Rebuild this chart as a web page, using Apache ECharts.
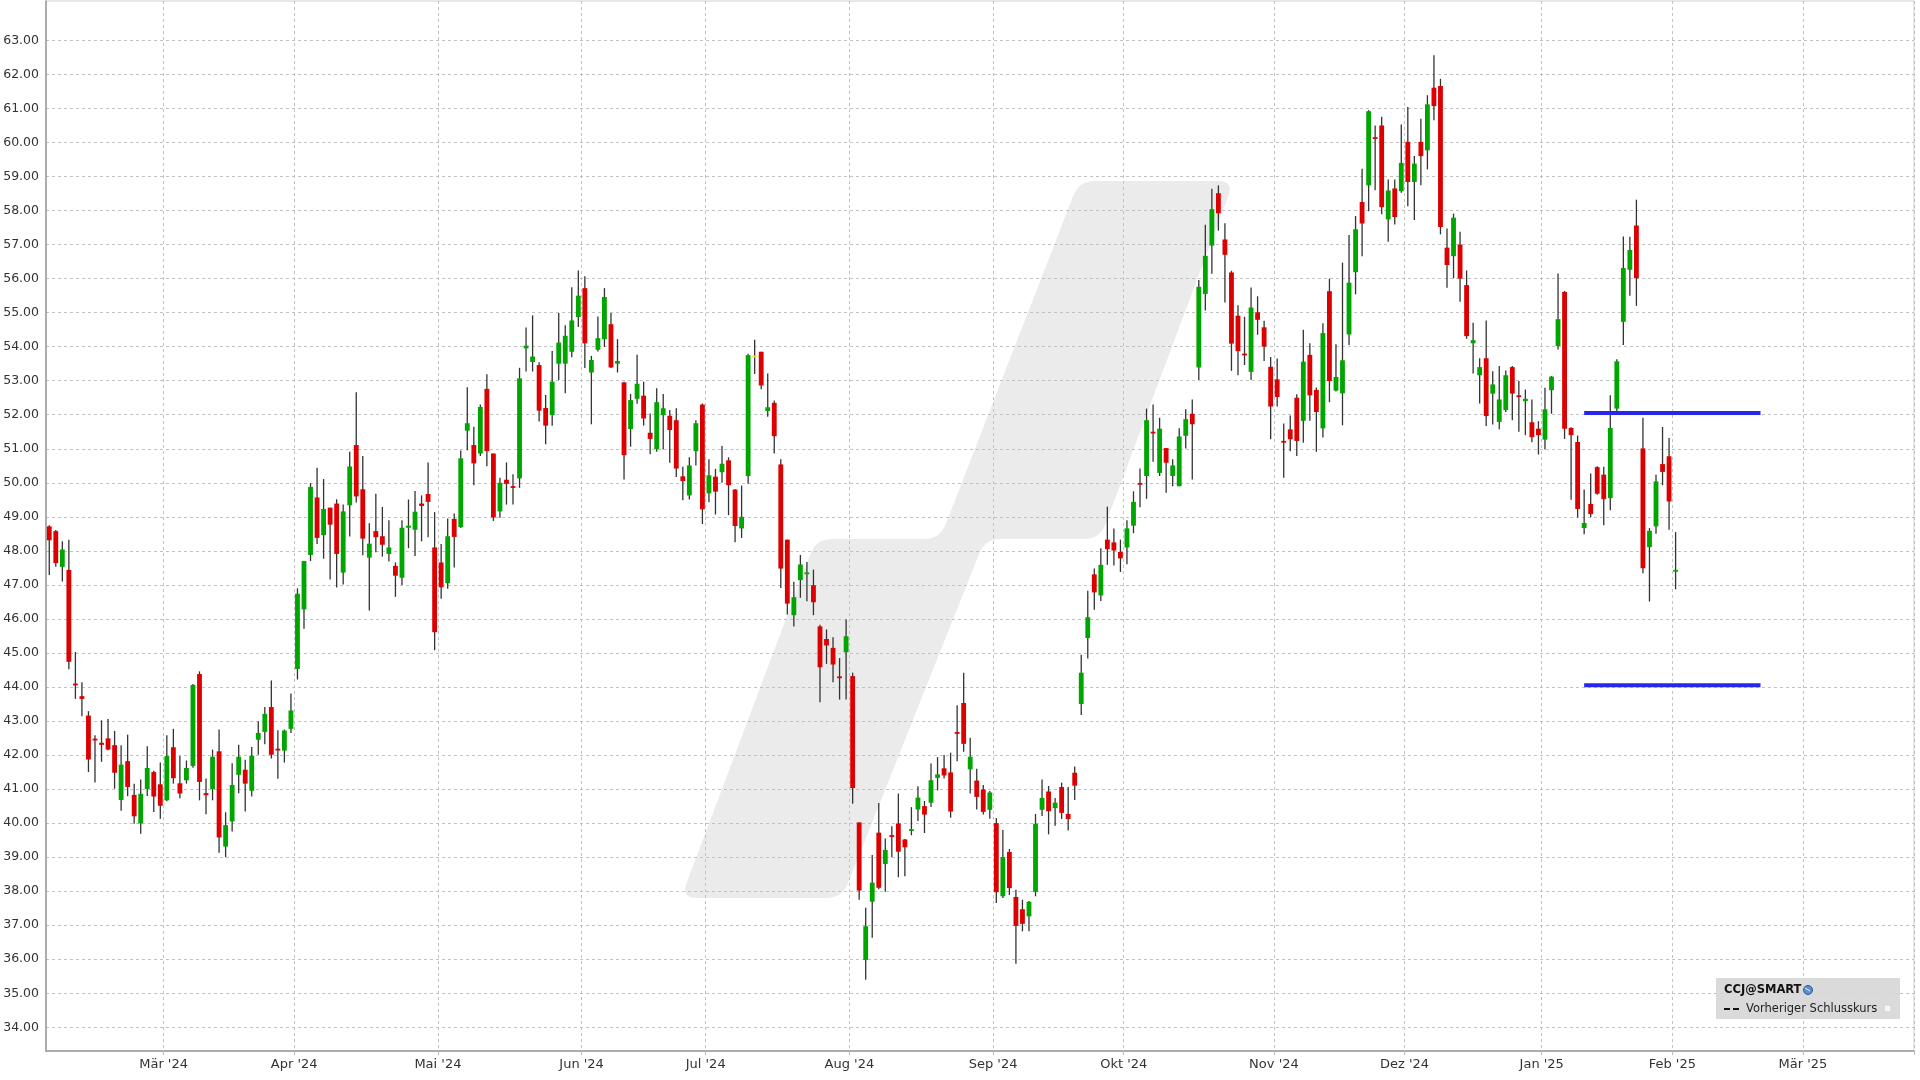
<!DOCTYPE html>
<html><head><meta charset="utf-8">
<script src="https://cdn.jsdelivr.net/npm/echarts@6.0.0/dist/echarts.min.js"></script>
<style>html,body{margin:0;padding:0;background:#fff}#c{width:1920px;height:1080px}</style>
</head><body><div id="c"></div><script>
// ---------- data ----------
const firstDay = '2024-02-05';
const lastDay = '2025-03-25';
const holidays = ['2024-02-19','2024-03-29','2024-05-27','2024-06-19','2024-07-04','2024-09-02','2024-11-28','2024-12-25','2025-01-01','2025-01-09','2025-01-20'];
const monthNames = ['Jan','Feb','Mär','Apr','Mai','Jun','Jul','Aug','Sep','Okt','Nov','Dez'];

const open = [48.72,48.58,47.53,47.44,44.10,43.73,43.16,42.48,42.36,42.49,42.29,40.68,41.82,40.83,39.99,41.00,41.50,41.14,40.67,42.23,
41.17,41.26,41.68,44.38,40.88,41.00,42.11,39.31,40.05,41.42,41.57,40.95,42.45,42.68,43.41,42.18,42.13,42.77,44.53,46.28,
47.88,49.57,48.46,49.27,49.39,47.36,49.34,51.11,49.81,47.80,48.58,48.43,47.91,47.56,47.21,48.68,48.62,49.39,49.67,48.10,
47.66,47.05,48.94,48.70,51.53,51.11,50.86,52.76,50.86,49.16,50.09,49.90,50.13,53.95,53.55,53.46,52.20,51.99,53.50,53.50,
53.85,54.87,55.72,53.24,53.91,54.22,54.66,53.50,52.95,51.58,52.47,52.56,51.47,50.99,51.99,51.97,51.84,50.19,49.63,50.93,
52.30,49.69,50.18,50.31,50.66,49.80,48.66,50.20,53.71,53.85,52.11,52.35,50.54,48.33,46.11,47.14,47.32,46.99,45.78,45.41,
45.15,44.31,45.02,44.32,40.02,35.98,37.69,39.72,38.80,39.64,39.99,39.52,39.77,40.40,40.50,40.60,41.33,41.61,41.49,42.67,
43.53,41.58,41.25,40.99,40.39,40.00,37.85,39.15,37.83,37.47,37.26,37.98,40.39,40.93,40.44,41.06,40.27,41.48,43.50,45.44,
47.31,46.69,48.33,48.25,47.97,48.10,48.74,49.99,50.20,51.49,50.29,51.02,50.20,49.90,51.38,52.03,53.39,55.55,56.97,58.51,
57.15,56.18,54.91,53.79,53.26,55.01,54.57,53.41,53.04,51.23,51.57,52.50,51.82,53.76,52.73,51.60,55.63,52.71,52.63,54.36,
56.19,58.25,58.74,60.15,60.50,57.74,58.65,58.57,60.02,58.84,60.02,59.77,61.61,61.66,56.91,56.66,57.00,55.81,54.10,53.16,
53.66,52.62,51.79,52.14,53.40,52.57,52.40,51.78,51.59,51.27,52.72,54.02,55.61,51.61,51.20,48.67,49.38,50.46,50.24,49.55,
52.18,54.73,56.26,57.56,51.01,48.11,48.72,50.55,50.78,47.39];
const close = [48.31,47.64,48.04,44.74,44.05,43.65,41.87,42.43,42.30,42.16,41.48,41.72,41.06,40.20,40.86,41.62,40.78,40.51,41.97,41.32,
40.87,41.62,44.06,41.21,40.82,41.95,39.58,39.94,41.12,41.95,41.16,41.98,42.65,43.21,42.01,42.14,42.72,43.31,46.74,47.70,
49.88,48.38,49.23,48.77,47.91,49.16,50.48,49.60,48.36,48.21,48.40,48.18,48.10,47.27,48.68,48.74,49.15,49.32,49.44,45.61,
46.93,48.43,48.41,50.72,51.75,50.57,52.23,50.93,48.98,50.00,49.97,49.85,53.07,54.03,53.71,52.12,51.68,52.97,54.12,54.32,
54.77,55.50,54.10,53.61,54.25,55.46,53.39,53.58,50.81,52.43,52.91,51.89,51.29,52.37,52.19,51.55,50.42,50.05,50.51,51.75,
49.22,50.22,49.74,50.56,49.93,48.73,49.00,53.75,53.71,52.86,52.22,51.37,47.48,46.45,46.64,47.60,47.36,46.49,44.58,45.22,
44.66,44.26,45.49,41.03,38.02,36.97,38.25,38.10,39.21,39.60,39.16,39.29,39.82,40.75,40.25,41.26,41.43,41.40,40.34,42.63,
42.33,41.95,40.77,40.33,40.90,37.97,39.00,38.09,36.98,37.04,37.69,39.98,40.74,40.35,40.60,40.30,40.12,41.10,44.42,46.05,
46.78,47.59,48.05,48.01,47.78,48.66,49.44,49.95,51.84,51.46,51.59,50.59,50.51,51.36,51.87,51.72,55.76,56.67,58.04,57.92,
56.70,54.09,53.87,53.75,55.15,54.79,54.00,52.24,52.52,51.18,51.28,51.23,53.56,52.57,52.08,54.40,52.99,53.11,53.60,55.88,
57.45,57.62,60.92,60.11,58.10,58.59,57.81,59.40,58.84,59.38,59.60,61.12,61.07,57.52,56.40,57.79,56.00,54.31,54.19,53.40,
51.96,52.89,52.45,53.16,52.62,52.52,52.47,51.34,51.40,52.16,53.12,54.81,51.59,51.40,49.23,48.82,49.08,49.68,49.52,51.61,
53.57,56.31,56.84,56.01,47.49,48.59,50.04,50.32,49.45,47.44];
const low = [47.29,47.53,47.10,44.52,43.65,43.14,41.50,41.19,41.80,42.14,41.01,40.36,40.79,39.98,39.69,40.80,40.33,40.13,40.64,41.16,
40.73,41.16,41.63,40.67,40.26,40.67,39.13,39.00,39.75,40.88,40.34,40.78,42.01,42.32,41.90,41.30,41.78,42.65,44.22,45.71,
47.70,48.20,47.77,47.16,46.92,47.01,48.42,49.42,47.87,46.25,47.96,47.83,47.69,46.65,47.00,48.08,47.85,48.28,48.40,45.08,
46.59,46.89,47.51,48.67,50.96,49.93,50.79,50.49,48.88,48.97,49.36,49.36,49.85,53.27,53.27,51.80,51.13,51.68,53.02,52.63,
53.69,54.58,53.37,51.72,53.86,53.99,53.37,53.24,50.10,51.06,52.32,51.68,50.84,50.91,50.98,50.59,50.17,49.49,49.51,50.51,
48.79,49.43,49.07,50.00,49.05,48.25,48.38,49.97,53.20,52.75,51.94,50.86,46.91,46.13,45.78,46.62,46.52,46.11,43.55,44.68,
44.14,43.63,43.63,40.57,37.75,35.40,36.63,38.06,37.98,39.00,38.41,38.44,39.64,40.06,39.71,40.47,40.96,41.31,40.16,41.82,
42.10,40.87,40.40,40.25,40.13,37.65,37.80,37.89,35.87,36.82,36.82,37.85,40.21,39.67,39.92,40.12,39.78,40.68,43.18,44.84,
46.27,46.53,47.59,47.57,47.38,47.61,48.52,49.28,49.53,50.62,50.20,49.71,49.90,49.90,51.01,50.10,53.02,55.06,56.14,57.41,
55.30,53.29,53.16,53.46,53.02,54.35,53.58,51.28,52.24,50.15,50.93,50.79,51.18,51.82,50.91,51.33,52.37,52.68,51.69,54.05,
55.54,56.66,57.98,58.60,57.89,57.08,57.59,58.52,58.13,57.72,58.74,59.21,60.65,57.30,55.73,56.01,55.32,54.23,53.21,52.33,
51.67,51.71,51.57,52.08,51.84,51.50,51.40,51.19,50.83,50.98,52.03,53.92,51.29,49.50,48.98,48.49,48.99,49.65,48.75,49.19,
52.11,54.05,55.50,55.20,47.34,46.51,48.50,49.93,48.62,46.87];
const high = [48.75,48.61,48.28,48.33,45.03,44.14,43.29,42.58,43.02,43.06,42.71,42.29,42.60,41.16,41.28,42.26,41.54,41.78,42.58,42.77,
41.97,41.84,44.09,44.46,41.31,42.16,42.75,40.32,41.76,42.30,41.86,42.24,42.99,43.41,44.19,42.73,42.75,43.81,46.90,47.70,
49.99,50.44,50.11,49.27,49.52,49.36,50.91,52.66,50.79,48.81,49.68,49.29,48.90,47.66,48.90,49.51,49.76,49.63,50.60,49.14,
48.20,48.95,49.10,50.95,52.81,51.65,52.30,53.19,50.86,50.15,50.60,50.25,53.38,54.56,54.92,53.54,52.58,53.87,54.99,54.63,
55.75,56.24,56.07,53.73,54.89,55.72,54.99,54.22,52.97,52.61,53.76,52.97,52.04,52.78,52.61,52.14,52.19,50.47,50.75,51.84,
52.33,50.69,50.41,51.08,50.75,49.82,49.92,53.79,54.20,53.85,53.21,52.42,50.69,48.33,47.09,47.88,47.67,47.45,45.83,45.69,
45.46,44.85,45.98,44.42,40.02,37.51,39.06,40.59,39.55,39.91,40.87,39.53,40.47,41.08,40.65,41.75,41.94,42.00,42.07,43.46,
44.42,42.51,41.60,41.12,40.94,40.15,39.80,39.24,38.04,37.75,37.71,40.27,41.28,41.09,40.74,41.19,41.06,41.66,44.95,46.83,
47.48,48.08,49.30,48.66,48.33,48.90,49.75,50.42,52.18,52.30,51.91,51.02,50.69,51.60,52.16,52.45,55.96,57.58,58.64,58.74,
57.63,56.23,55.22,54.88,55.74,55.48,54.76,53.70,53.65,51.74,51.98,52.60,54.50,54.10,52.80,54.69,56.00,54.07,56.47,57.28,
57.84,59.23,60.95,60.50,60.76,58.91,58.91,60.53,61.04,59.60,60.70,61.39,62.56,61.87,57.47,57.91,57.38,56.24,54.70,53.66,
54.77,53.28,53.43,53.30,53.43,52.99,52.74,52.45,51.81,52.79,53.14,56.15,55.64,51.63,51.39,49.80,50.27,50.49,50.47,52.57,
53.63,57.24,57.23,58.32,51.91,48.67,50.24,51.64,51.32,48.55];

const yMin = 34, yMax = 63, yStep = 1;
const levelUpper = {value: 52.05, from: '2025-01-13', to: '2025-02-20'};
const levelLower = {value: 44.05, from: '2025-01-13', to: '2025-02-20'};

// ---------- categories (trading days) ----------
const categories = [];
(function(){
  const d = new Date(firstDay + 'T00:00:00Z');
  const end = new Date(lastDay + 'T00:00:00Z');
  while (d <= end) {
    const wd = d.getUTCDay();
    const s = d.toISOString().slice(0,10);
    if (wd !== 0 && wd !== 6 && holidays.indexOf(s) < 0) categories.push(s);
    d.setUTCDate(d.getUTCDate() + 1);
  }
})();
const isMonthStart = (idx) => idx > 0 && categories[idx].slice(0,7) !== categories[idx-1].slice(0,7);
const monthLabel = (v) => monthNames[+v.slice(5,7) - 1] + " '" + v.slice(2,4);

const candleData = open.map((o, i) => [i, o, close[i], low[i], high[i]]);

// ---------- watermark shape (decoration) ----------
function roundedPoly(pts, r) {
  const out = [];
  const n = pts.length;
  for (let k = 0; k < n; k++) {
    const p = pts[k], a = pts[(k - 1 + n) % n], b = pts[(k + 1) % n];
    const da = Math.hypot(a[0]-p[0], a[1]-p[1]), db = Math.hypot(b[0]-p[0], b[1]-p[1]);
    const rr = Math.min(r, da/2, db/2);
    const p1 = [p[0] + (a[0]-p[0])/da*rr, p[1] + (a[1]-p[1])/da*rr];
    const p2 = [p[0] + (b[0]-p[0])/db*rr, p[1] + (b[1]-p[1])/db*rr];
    for (let t = 0; t <= 1.0001; t += 0.125) {
      const u = 1 - t;
      out.push([u*u*p1[0] + 2*u*t*p[0] + t*t*p2[0], u*u*p1[1] + 2*u*t*p[1] + t*t*p2[1]]);
    }
  }
  return out;
}
const wm = roundedPoly([[681,898],[816,539],[940,539],[1079,181],[1234,181],[1100,539],[985,539],[842,898]], 16);

// ---------- chart ----------
const chart = echarts.init(document.getElementById('c'), null, {renderer: 'canvas'});
const FONT = 'DejaVu Sans';
const gridColor = '#c2c2c2';
chart.setOption({
  animation: false,
  backgroundColor: '#ffffff',
  grid: [
    {left: 46, right: 6, top: 1, bottom: 29, show: true, borderColor: '#cfcfcf', borderWidth: 1, backgroundColor: 'transparent'},
    {left: 46, right: 6, top: 40.4, bottom: 1080 - 1027.3}
  ],
  xAxis: [
    {type: 'category', gridIndex: 0, data: categories, boundaryGap: true,
     axisLine: {show: true, lineStyle: {color: '#999999', width: 1.5}},
     axisTick: {show: true, interval: isMonthStart, length: 4, lineStyle: {color: '#bbbbbb'}},
     axisLabel: {show: true, interval: isMonthStart, formatter: monthLabel, color: '#333333', fontSize: 13, fontFamily: FONT, margin: 7, padding: [0, 6.5, 0, 0]},
     splitLine: {show: true, interval: isMonthStart, lineStyle: {color: gridColor, type: [3, 3], width: 1}}},
    {type: 'category', gridIndex: 1, data: categories, boundaryGap: true, show: false}
  ],
  yAxis: [
    {type: 'value', gridIndex: 0, min: 0, max: 1, axisLine: {show: true, lineStyle: {color: '#999999', width: 1.5}},
     axisTick: {show: false}, axisLabel: {show: false}, splitLine: {show: false}},
    {type: 'value', gridIndex: 1, min: yMin, max: yMax, interval: yStep,
     axisLine: {show: false}, axisTick: {show: false},
     axisLabel: {formatter: (v) => v.toFixed(2), color: '#333333', fontSize: 12.5, fontFamily: FONT, margin: 7},
     splitLine: {show: true, lineStyle: {color: gridColor, type: [3, 3], width: 1}}}
  ],
  graphic: {elements: [
    {type: 'polygon', z: -10, shape: {points: wm}, style: {fill: '#ebebeb'}, silent: true},
    {type: 'rect', z: 50, shape: {x: 1716, y: 978, width: 184, height: 41}, style: {fill: 'rgba(214,214,214,0.9)'}},
    {type: 'text', z: 51, x: 1724, y: 990, style: {text: 'CCJ@SMART', fontFamily: FONT, fontWeight: 'bold', fontSize: 11.5, fill: '#111', verticalAlign: 'middle'}},
    {type: 'circle', z: 51, shape: {cx: 1808, cy: 990, r: 4.5}, style: {fill: '#5b8fcf', stroke: '#2a5a9a', lineWidth: 1}},
    {type: 'line', z: 52, shape: {x1: 1805, y1: 988, x2: 1810, y2: 991}, style: {stroke: '#e8f0ff', lineWidth: 1}},
    {type: 'line', z: 51, shape: {x1: 1724, y1: 1009, x2: 1730, y2: 1009}, style: {stroke: '#111', lineWidth: 2}},
    {type: 'line', z: 51, shape: {x1: 1733, y1: 1009, x2: 1739, y2: 1009}, style: {stroke: '#111', lineWidth: 2}},
    {type: 'text', z: 51, x: 1746, y: 1009, style: {text: 'Vorheriger Schlusskurs', fontFamily: FONT, fontSize: 11.5, fill: '#222', verticalAlign: 'middle'}},
    {type: 'rect', z: 51, shape: {x: 1884, y: 1005, width: 7, height: 7}, style: {fill: '#f4f4f4', stroke: '#d0d0d0', lineWidth: 1}}
  ]},
  series: [
    {type: 'custom', xAxisIndex: 1, yAxisIndex: 1, data: candleData, encode: {x: 0, y: [1, 2, 3, 4]}, clip: false,
     renderItem: function (params, api) {
       const i = api.value(0), o = api.value(1), c = api.value(2), lo = api.value(3), hi = api.value(4);
       const pH = api.coord([i, hi]), pL = api.coord([i, lo]), pO = api.coord([i, o]), pC = api.coord([i, c]);
       const w = api.size([1, 0])[0] * 0.74;
       const col = c > o ? '#00a600' : (c < o ? '#dc0000' : '#f2df3a');
       let top = Math.min(pO[1], pC[1]), bot = Math.max(pO[1], pC[1]);
       if (bot - top < 1.8) { const m = (top + bot) / 2; top = m - 0.9; bot = m + 0.9; }
       const x = pH[0];
       return {type: 'group', children: [
         {type: 'line', shape: {x1: x, y1: pH[1], x2: x, y2: pL[1]}, style: {stroke: '#333333', lineWidth: 1.3}},
         {type: 'rect', shape: {x: x - w / 2, y: top, width: w, height: bot - top}, style: {fill: col}}
       ]};
     }},
    {type: 'line', xAxisIndex: 1, yAxisIndex: 1, symbol: 'none', silent: true,
     data: [[levelUpper.from, levelUpper.value], [levelUpper.to, levelUpper.value]],
     lineStyle: {color: '#2626ee', width: 4}},
    {type: 'line', xAxisIndex: 1, yAxisIndex: 1, symbol: 'none', silent: true,
     data: [[levelLower.from, levelLower.value], [levelLower.to, levelLower.value]],
     lineStyle: {color: '#2626ee', width: 4}}
  ]
});
</script></body></html>
